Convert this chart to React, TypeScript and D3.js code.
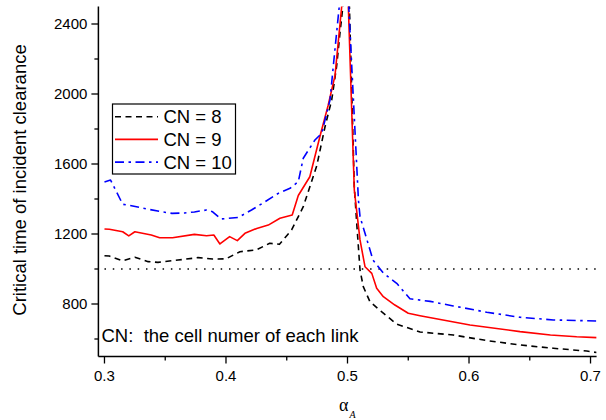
import React from "react";
import * as d3 from "d3";

// CN = 8 (black dashed)
const x8L = [0.300, 0.304, 0.315, 0.325, 0.336, 0.344, 0.3605, 0.377, 0.389, 0.400, 0.4115, 0.425, 0.436, 0.444, 0.454, 0.4636, 0.4747, 0.4815, 0.487, 0.491, 0.4938, 0.4965];
const y8L = [1076, 1074, 1047, 1067, 1042, 1038, 1051, 1065, 1057, 1058, 1099, 1109, 1147, 1141, 1223, 1356, 1590, 1813, 1966, 2156, 2347, 2520];
const x8R = [0.5015, 0.5056, 0.5076, 0.5103, 0.513, 0.5185, 0.528, 0.5405, 0.5597, 0.587, 0.6146, 0.642, 0.6694, 0.6969, 0.705];
const y8R = [2520, 1470, 1261, 994, 899, 813, 756, 685, 640, 623, 591, 566, 547, 531, 523];

// CN = 9 (red solid)
const x9L = [0.300, 0.304, 0.315, 0.320, 0.325, 0.3385, 0.3454, 0.356, 0.374, 0.384, 0.390, 0.395, 0.403, 0.4093, 0.4156, 0.4253, 0.4348, 0.4444, 0.4545, 0.4595, 0.469, 0.4774, 0.484, 0.4897, 0.4955];
const y9L = [1229, 1227, 1213, 1189, 1213, 1194, 1179, 1179, 1198, 1190, 1194, 1143, 1185, 1162, 1204, 1232, 1251, 1290, 1309, 1420, 1527, 1760, 1933, 2105, 2520];
const x9R = [0.5006, 0.5056, 0.5103, 0.5144, 0.520, 0.524, 0.5295, 0.539, 0.550, 0.5597, 0.6008, 0.642, 0.667, 0.6886, 0.705];
const y9R = [2520, 1451, 1166, 1013, 975, 890, 842, 794, 747, 733, 680, 642, 623, 613, 608];

// CN = 10 (blue dash-dot)
const x10L = [0.300, 0.305, 0.315, 0.320, 0.332, 0.347, 0.3556, 0.366, 0.374, 0.3838, 0.389, 0.396, 0.410, 0.421, 0.430, 0.443, 0.4527, 0.4595, 0.4636, 0.4732, 0.4788, 0.4856, 0.4897, 0.4935];
const y10L = [1497, 1508, 1370, 1365, 1347, 1327, 1318, 1320, 1326, 1337, 1327, 1286, 1294, 1337, 1375, 1432, 1461, 1499, 1633, 1737, 1776, 1966, 2257, 2520];
const x10R = [0.5009, 0.509, 0.5103, 0.521, 0.5295, 0.5405, 0.5514, 0.568, 0.587, 0.6146, 0.642, 0.6694, 0.705];
const y10R = [2520, 1394, 1299, 1051, 977, 918, 830, 815, 789, 753, 724, 709, 703];

const threshold = 1000;
const xMajor = [0.3, 0.4, 0.5, 0.6, 0.7];
const xMinor = [0.35, 0.45, 0.55, 0.65];
const yMajor = [800, 1200, 1600, 2000, 2400];
const yMinor = [600, 1000, 1400, 1800, 2200];
const legendLabels = ["CN = 8", "CN = 9", "CN = 10"];

const L = 98.4, R = 596.6, T = 6.5, B = 356.5;
const FONT = "'Liberation Sans', Arial, Helvetica, sans-serif";

export default function App() {
  const x = d3.scaleLinear().domain([0.295, 0.705]).range([L, R]);
  const y = d3.scaleLinear().domain([500, 2500]).range([B, T]);
  const line = d3.line<[number, number]>().x((d) => x(d[0])).y((d) => y(d[1]));
  const zip = (a: number[], b: number[]) => a.map((v, i) => [v, b[i]] as [number, number]);

  const series = [
    { branches: [zip(x8L, y8L), zip(x8R, y8R)], color: "#000000", dash: "6,4.5" },
    { branches: [zip(x9L, y9L), zip(x9R, y9R)], color: "#ff0000", dash: "" },
    { branches: [zip(x10L, y10L), zip(x10R, y10R)], color: "#0000ff", dash: "9,4.5,2.5,4.5" },
  ];

  return (
    <svg width={606} height={420} style={{ position: "absolute", left: 0, top: 0, background: "#fff" }} fontFamily={FONT}>
      <defs>
        <clipPath id="plot">
          <rect x={L} y={T} width={R - L} height={B - T} />
        </clipPath>
      </defs>
      <rect x={0} y={0} width={606} height={420} fill="#fff" />

      {/* threshold dotted line */}
      <line x1={x(0.3)} x2={x(0.705)} y1={y(threshold)} y2={y(threshold)} stroke="#000" strokeWidth={1.5} strokeDasharray="1.5,6.8" />

      <g clipPath="url(#plot)">
        {series.map((s, i) =>
          s.branches.map((b, j) => (
            <path key={`${i}-${j}`} d={line(b) || ""} fill="none" stroke={s.color} strokeWidth={1.6} strokeDasharray={s.dash || undefined} strokeLinejoin="round" />
          ))
        )}
      </g>

      {/* axes */}
      <line x1={L} x2={L} y1={T} y2={B} stroke="#000" strokeWidth={1.5} />
      <line x1={L} x2={R} y1={B} y2={B} stroke="#000" strokeWidth={1.5} />
      {yMajor.map((v) => (
        <g key={v}>
          <line x1={L - 7} x2={L} y1={y(v)} y2={y(v)} stroke="#000" strokeWidth={1.3} />
          <text x={L - 11} y={y(v) + 5} fontSize={15} textAnchor="end">{v}</text>
        </g>
      ))}
      {yMinor.map((v) => (
        <line key={v} x1={L - 4} x2={L} y1={y(v)} y2={y(v)} stroke="#000" strokeWidth={1.3} />
      ))}
      {xMajor.map((v) => (
        <g key={v}>
          <line x1={x(v)} x2={x(v)} y1={B} y2={B + 7} stroke="#000" strokeWidth={1.3} />
          <text x={x(v)} y={381} fontSize={15} textAnchor="middle">{v.toFixed(1)}</text>
        </g>
      ))}
      {xMinor.map((v) => (
        <line key={v} x1={x(v)} x2={x(v)} y1={B} y2={B + 4} stroke="#000" strokeWidth={1.3} />
      ))}

      {/* axis titles */}
      <text transform="translate(26,180) rotate(-90)" fontSize={18.5} textAnchor="middle">Critical time of incident clearance</text>
      <text x={339} y={411} fontSize={18} fontFamily="'Liberation Serif', 'Times New Roman', serif">α</text>
      <text x={349.5} y={418} fontSize={10} fontStyle="italic" fontFamily="'Liberation Serif', 'Times New Roman', serif">A</text>

      {/* annotation */}
      <text x={101.5} y={342} fontSize={18.5} style={{ whiteSpace: "pre" }}>{"CN:  the cell numer of each link"}</text>

      {/* legend */}
      <rect x={112.5} y={104} width={123} height={70} fill="#fff" stroke="#000" strokeWidth={1.2} />
      {series.map((s, i) => (
        <g key={i}>
          <line x1={115} x2={158} y1={116.7 + i * 22.7} y2={116.7 + i * 22.7} stroke={s.color} strokeWidth={1.6} strokeDasharray={s.dash || undefined} />
          <text x={163.5} y={123.2 + i * 22.7} fontSize={18.5}>{legendLabels[i]}</text>
        </g>
      ))}
    </svg>
  );
}
